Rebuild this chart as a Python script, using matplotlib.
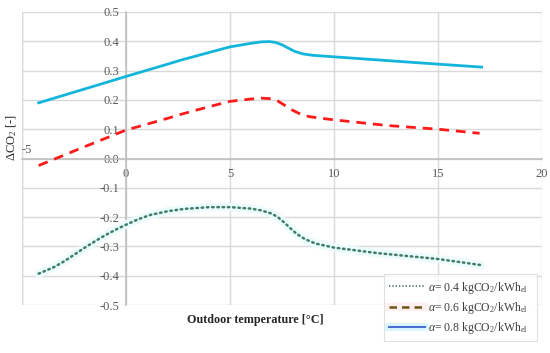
import matplotlib
matplotlib.use("Agg")
import matplotlib.pyplot as plt
from matplotlib.lines import Line2D
from matplotlib.transforms import ScaledTranslation

# values
x_08 = [-4.2, -2, 0, 2, 2.6, 4, 5, 6, 6.5, 6.9, 7.2, 7.5, 7.8, 8.1, 8.5, 9, 10, 12, 15, 17.1]
y_08 = [0.19, 0.237, 0.28, 0.322, 0.335, 0.362, 0.381, 0.393, 0.398, 0.399, 0.396,
        0.388, 0.377, 0.366, 0.357, 0.352, 0.347, 0.337, 0.322, 0.312]

x_06 = [-4.2, -2, 0, 2, 2.6, 4, 5, 6, 6.5, 7.0, 7.3, 7.6, 8.0, 8.4, 8.8, 9.3, 10, 12.5, 15, 17]
y_06 = [-0.024, 0.04, 0.097, 0.137, 0.15, 0.177, 0.195, 0.203, 0.206, 0.204, 0.196,
        0.183, 0.165, 0.151, 0.143, 0.138, 0.132, 0.113, 0.10, 0.086]

x_04 = [-4.2, -3.5, -3, -2.5, -2, -1.5, -1, -0.5, 0, 0.6, 1.2, 2, 2.8, 4, 5, 6, 6.5,
        7, 7.3, 7.6, 7.9, 8.2, 8.6, 9.1, 10, 12.1, 15, 17.1]
y_04 = [-0.393, -0.372, -0.352, -0.329, -0.305, -0.283, -0.262, -0.243, -0.226,
        -0.207, -0.192, -0.18, -0.172, -0.166, -0.166, -0.171, -0.177, -0.188,
        -0.2, -0.218, -0.238, -0.257, -0.275, -0.29, -0.304, -0.323, -0.343, -0.364]

labels = [r"$\alpha$= 0.4 kgCO$_2$/kWh$_{\mathrm{el}}$",
          r"$\alpha$= 0.6 kgCO$_2$/kWh$_{\mathrm{el}}$",
          r"$\alpha$= 0.8 kgCO$_2$/kWh$_{\mathrm{el}}$"]
xticks = [-5, 0, 5, 10, 15, 20]
yticks = [-0.5, -0.4, -0.3, -0.2, -0.1, 0.0, 0.1, 0.2, 0.3, 0.4, 0.5]

plt.rcParams.update({"font.family": "Liberation Serif", "font.size": 9,
                     "mathtext.fontset": "custom",
                     "mathtext.rm": "Liberation Serif",
                     "mathtext.it": "Liberation Serif:italic"})

fig = plt.figure(figsize=(5.5, 3.53), dpi=100)
ax = fig.add_axes([22 / 550, 1 - 305 / 353, 520 / 550, 293 / 353])

ax.plot(x_04, y_04, color="#ecfbfb", lw=6, solid_capstyle="round", zorder=2)
ax.plot(x_04, y_04, color="#3f7d66", lw=1.8, ls=(0, (0.6, 1.5)),
        dash_capstyle="round", zorder=3)
ax.plot(x_06, y_06, color="#ff1a1a", lw=2, ls=(0, (3.5, 2.5)), zorder=3)
ax.plot(x_08, y_08, color="#12b5dc", lw=2, zorder=3)

ax.set_xlim(-5, 20)
ax.set_ylim(-0.5, 0.5)
ax.set_xticks(xticks)
ax.set_yticks(yticks)
ax.set_xticklabels([str(v) for v in xticks])
ax.set_yticklabels([f"{v:.1f}" for v in yticks])
ax.grid(True, color="#d9d9d9", lw=1)
ax.set_axisbelow(True)

for s in ("top", "right"):
    ax.spines[s].set_visible(False)
for s in ("left", "bottom"):
    ax.spines[s].set_position(("data", 0))
    ax.spines[s].set_color("#bfbfbf")
    ax.spines[s].set_linewidth(1.2)
    ax.spines[s].set_zorder(1)
ax.axvline(-5, color="#d9d9d9", lw=1, zorder=0)

ax.tick_params(length=0, colors="#595959", labelsize=9)
ax.tick_params(axis="y", pad=5)
ax.tick_params(axis="x", pad=7)
# Excel puts the -5 label above the axis
lab = ax.get_xticklabels()[0]
lab.set_transform(lab.get_transform() + ScaledTranslation(5 / 100, 24 / 100, fig.dpi_scale_trans))

ax.set_xlabel("Outdoor temperature [°C]", fontweight="bold", fontsize=8.7, color="#262626")
ax.xaxis.set_label_coords(0.448, -0.03)
ax.set_ylabel(r"$\Delta$CO$_2$ [-]", fontsize=9, color="#262626")
ax.yaxis.set_label_coords(-0.006, 0.57)

h1 = (Line2D([], [], color="#3f6f6a", lw=1.2, ls=(0, (0.8, 1.2))),)
h2 = (Line2D([], [], color="#fdeef0", lw=6), Line2D([], [], color="#6b5418", lw=1.8, ls=(0, (3, 2))))
h3 = (Line2D([], [], color="#dcf6fa", lw=6), Line2D([], [], color="#4a6fd4", lw=1.5))
leg = fig.legend([h1, h2, h3], labels, loc="lower left",
                 bbox_to_anchor=(378 / 550, 1 - 347 / 353, 165 / 550, 70 / 353),
                 mode="expand", frameon=True, fancybox=False, fontsize=8.5,
                 handlelength=3.0, handletextpad=0.3, labelspacing=0.35,
                 borderpad=0.45, labelcolor="#404040")
leg.get_frame().set_edgecolor("#d9d9d9")
leg.get_frame().set_linewidth(0.8)

fig.savefig("out.png", dpi=100)
